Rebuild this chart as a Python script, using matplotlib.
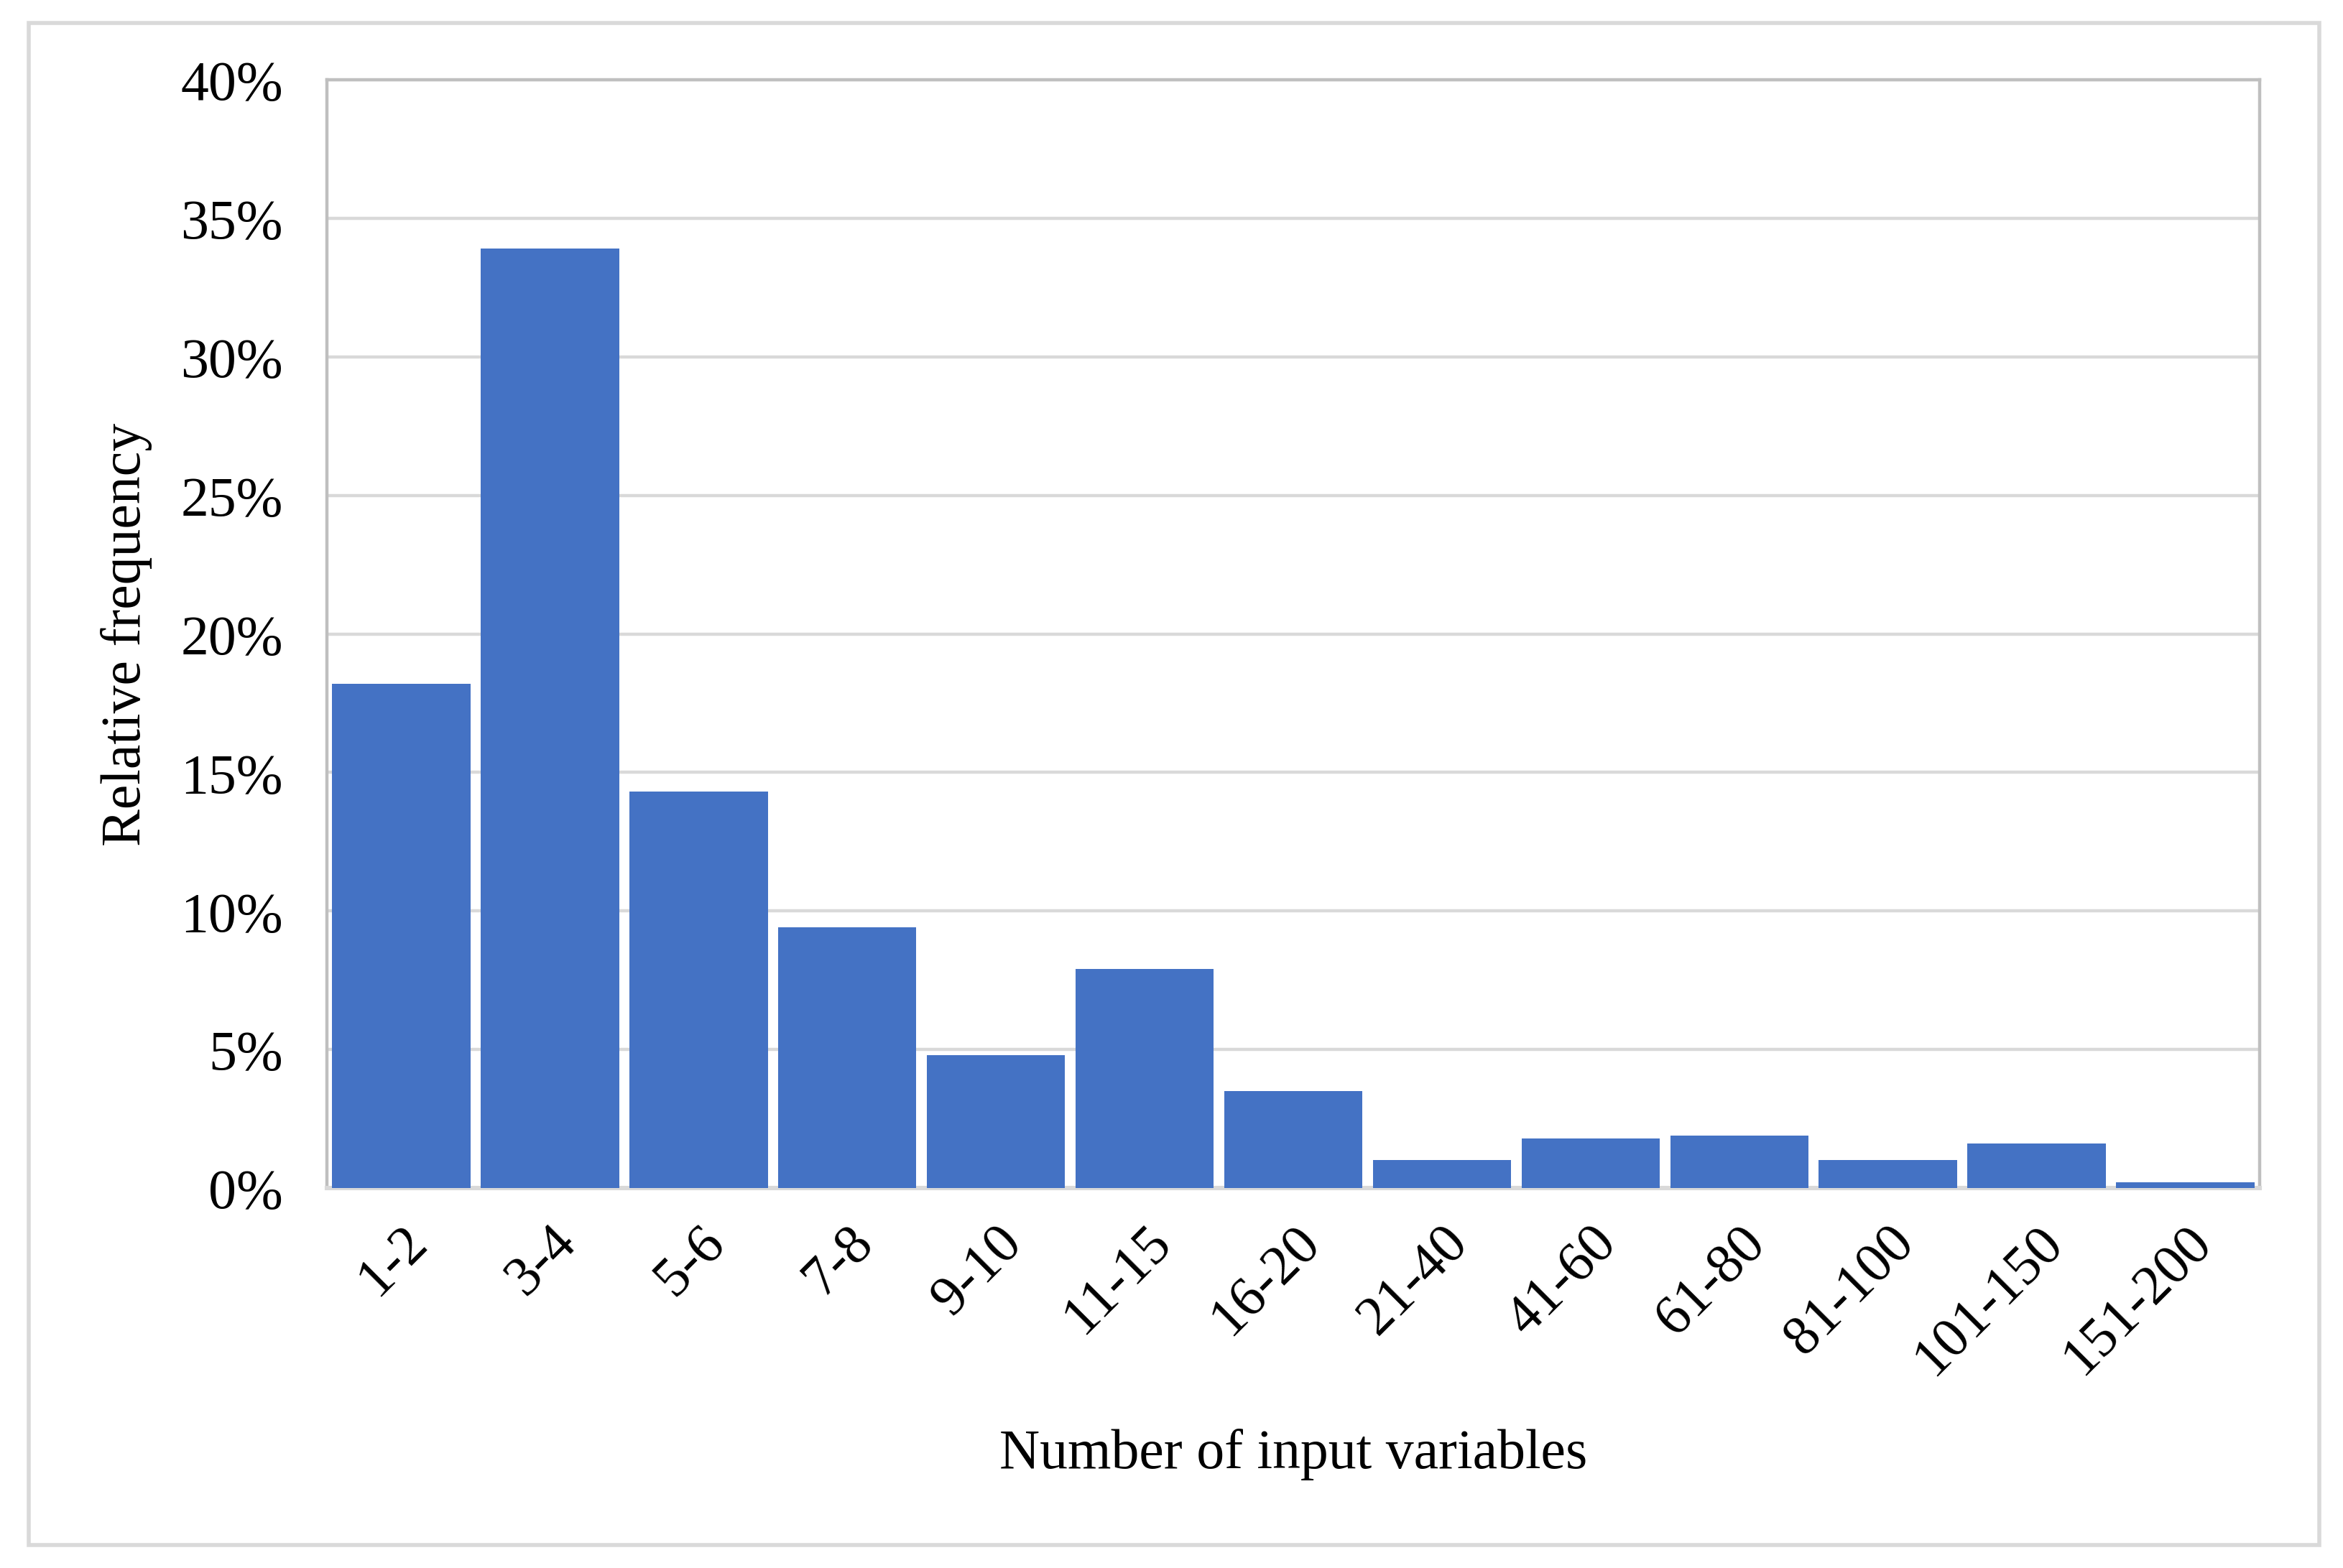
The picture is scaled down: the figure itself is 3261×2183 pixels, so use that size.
import matplotlib
matplotlib.use("Agg")
import matplotlib.pyplot as plt
from matplotlib.patches import Rectangle
from matplotlib.ticker import PercentFormatter

# bins of number of input variables and their relative frequency (%)
categories = ["1-2", "3-4", "5-6", "7-8", "9-10", "11-15", "16-20",
              "21-40", "41-60", "61-80", "81-100", "101-150", "151-200"]
freq = [18.2, 33.9, 14.3, 9.4, 4.8, 7.9, 3.5, 1.0, 1.8, 1.9, 1.0, 1.6, 0.2]
yticks = [0, 5, 10, 15, 20, 25, 30, 35, 40]

plt.rcParams['font.family'] = ['Liberation Serif', 'DejaVu Serif']

fig = plt.figure(figsize=(16.305, 10.9199), dpi=200)
ax = fig.add_axes([455 / 3261, 1 - 1655 / 2184, (3145 - 455) / 3261, (1655 - 112) / 2184])

x = range(len(categories))
ax.bar(x, freq, width=0.93, color='#4472C4', zorder=3)

ax.set_xlim(-0.5, len(categories) - 0.5)
ax.set_ylim(0, 40)
ax.set_yticks(yticks)
ax.yaxis.set_major_formatter(PercentFormatter(decimals=0))
ax.grid(axis='y', color='#D9D9D9', linewidth=1.6, zorder=0)
ax.tick_params(axis='both', length=0, labelsize=28)
ax.tick_params(axis='y', pad=22)
ax.tick_params(axis='x', pad=14)

ax.set_xticks(list(x))
ax.set_xticklabels(categories, rotation=45, ha='right', rotation_mode='anchor')

for s in ax.spines.values():
    s.set_color('#BFBFBF')
    s.set_linewidth(1.6)
ax.spines['bottom'].set_color('#D9D9D9')
ax.spines['bottom'].set_linewidth(2.2)

ax.set_ylabel("Relative frequency", fontsize=28, labelpad=14)
ax.set_xlabel("Number of input variables", fontsize=28, labelpad=22)

# light grey frame around the whole chart
fig.patches.append(Rectangle((40 / 3261, 1 - 2152 / 2184), (3228 - 40) / 3261, (2152 - 33) / 2184,
                             transform=fig.transFigure, fill=False, edgecolor='#D9D9D9', linewidth=2))

fig.savefig("out.png", dpi=200)
